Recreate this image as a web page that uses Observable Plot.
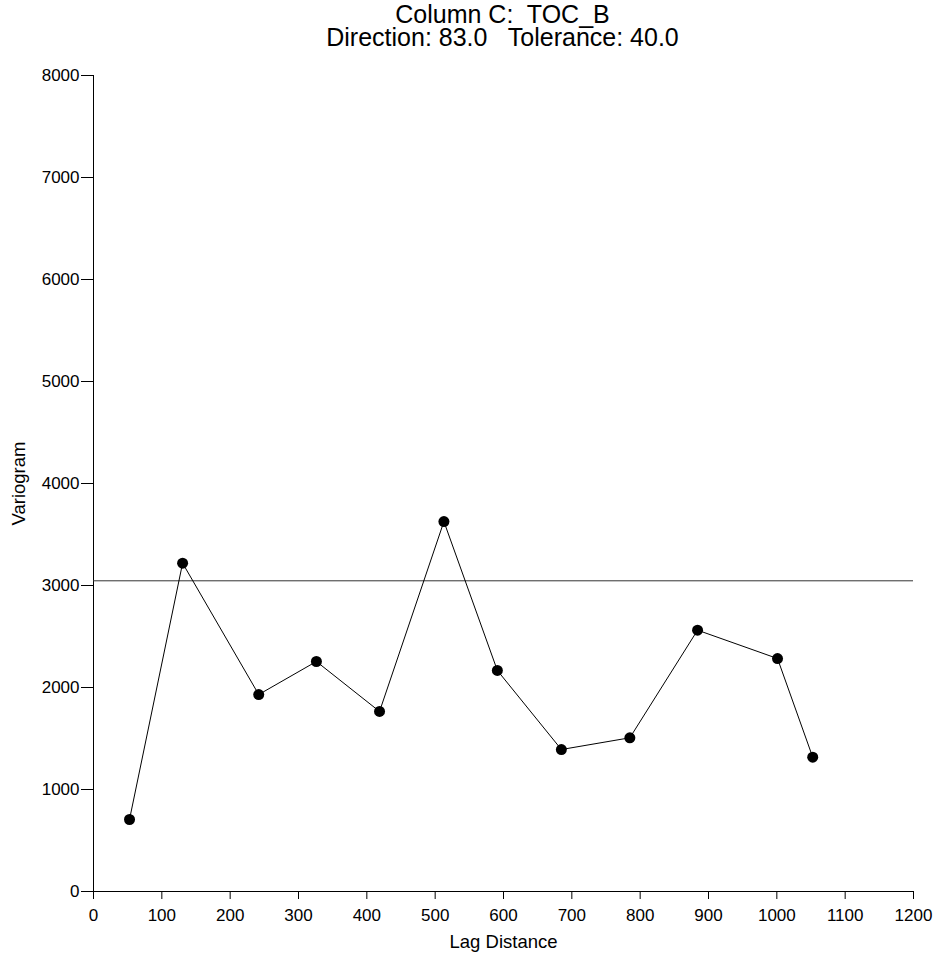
<!DOCTYPE html>
<html>
<head>
<meta charset="utf-8">
<script src="https://cdn.jsdelivr.net/npm/d3@7"></script>
<script src="https://cdn.jsdelivr.net/npm/@observablehq/plot@0.6"></script>
<style>
  html, body { margin: 0; padding: 0; background: #fff; }
  #title {
    width: 935px; height: 56px; box-sizing: border-box;
    padding-left: 70px; padding-top: 3px;
    font-family: "Liberation Sans", Arial, sans-serif; font-size: 25px; line-height: 23px;
    text-align: center; color: #000; white-space: pre; position: relative; z-index: 1;
  }
</style>
</head>
<body>
<div id="title"></div>
<div id="chart"></div>
<script>
const titleLines = ["Column C:  TOC_B", "Direction: 83.0   Tolerance: 40.0"];
const lagDistance = [52.7, 130.4, 241.8, 326.2, 418.6, 512.8, 591, 684.7, 784.9, 884, 1001, 1052.5];
const variogram = [706, 3219, 1931, 2255, 1765, 3627, 2167, 1392, 1507, 2562, 2284, 1317];
const sill = 3046;
const xTicks = [0, 100, 200, 300, 400, 500, 600, 700, 800, 900, 1000, 1100, 1200];
const yTicks = [0, 1000, 2000, 3000, 4000, 5000, 6000, 7000, 8000];
const xLabel = "Lag Distance";
const yLabel = "Variogram";

document.getElementById("title").textContent = titleLines.join("\n");

const data = lagDistance.map((x, i) => ({x, y: variogram[i]}));
const plain = d => String(d);

const chart = Plot.plot({
  width: 935,
  height: 897,
  marginTop: 19,
  marginBottom: 62,
  marginLeft: 93,
  marginRight: 22,
  style: {fontFamily: "'Liberation Sans', Arial, sans-serif", fontSize: "17px", background: "transparent", color: "#000"},
  x: {domain: [0, 1200]},
  y: {domain: [0, 8000]},
  marks: [
    Plot.axisX({ticks: xTicks, tickFormat: plain, tickSize: 8, tickPadding: 9, fontSize: 17, label: null}),
    Plot.axisX({ticks: [], label: xLabel, labelAnchor: "center", labelArrow: "none", labelOffset: 56, fontSize: 18.5}),
    Plot.axisY({ticks: yTicks, tickFormat: plain, tickSize: 12, tickPadding: 2, fontSize: 17, label: null}),
    Plot.axisY({ticks: [], label: yLabel, labelAnchor: "center", labelArrow: "none", labelOffset: 82, fontSize: 18.5}),
    Plot.ruleX([0], {stroke: "#000", strokeWidth: 1}),
    Plot.ruleY([0], {stroke: "#000", strokeWidth: 1}),
    Plot.ruleY([sill], {stroke: "#333", strokeWidth: 1}),
    Plot.line(data, {x: "x", y: "y", stroke: "#000", strokeWidth: 1}),
    Plot.dot(data, {x: "x", y: "y", r: 5.5, fill: "#000", stroke: "none"})
  ]
});
document.getElementById("chart").appendChild(chart);
</script>
</body>
</html>
